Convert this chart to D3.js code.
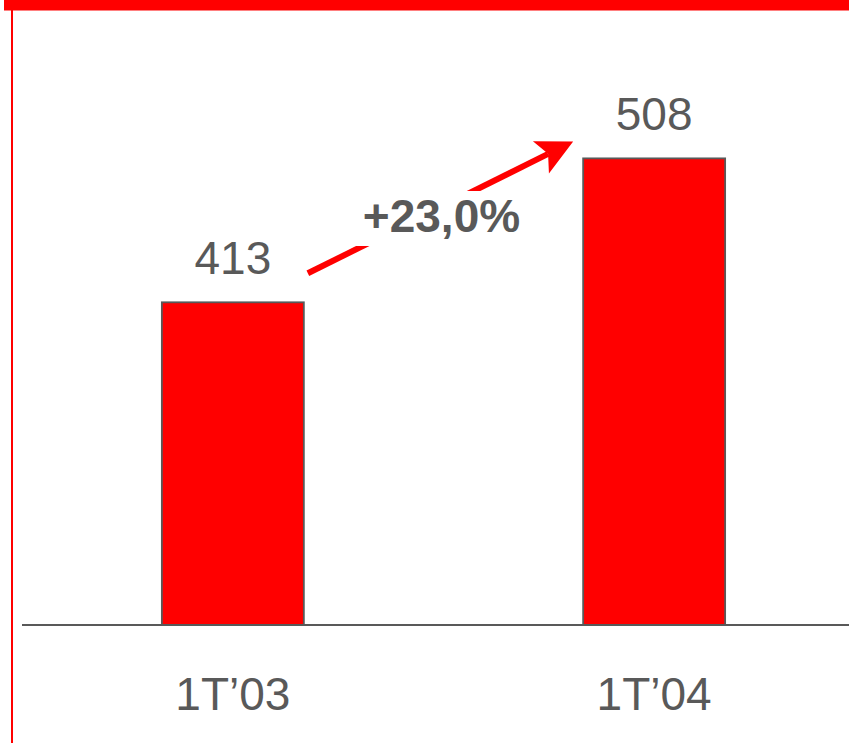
<!DOCTYPE html>
<html>
<head>
<meta charset="utf-8">
<script src="https://cdn.jsdelivr.net/npm/d3@7"></script>
<style>
  body { margin: 0; background: #fff; }
  text { font-family: "Liberation Sans", Arial, sans-serif; fill: #595959; }
</style>
</head>
<body>
<svg id="chart" width="849" height="743"></svg>
<script>
// data
let categories = ["1T\u201903", "1T\u201904"];
let values = [413, 508];
let growth = (values[1] / values[0] - 1) * 100;
let growthLabel = "+" + growth.toFixed(1).replace(".", ",") + "%";

let svg = d3.select("#chart"),
    width = +svg.attr("width"),
    height = +svg.attr("height");

let baseY = 625;

let x = d3.scaleBand()
          .domain(categories)
          .range([22, 865])
          .paddingInner(0.663)
          .paddingOuter(0.332);

let y = d3.scaleLinear()
          .domain([200, 600])
          .range([baseY, 19]);

// frame: top band and left rule
svg.append("rect")
   .attr("x", 4).attr("y", 0)
   .attr("width", width - 4).attr("height", 10.5)
   .attr("fill", "#ff0000");

svg.append("line")
   .attr("x1", 12).attr("x2", 12)
   .attr("y1", 0).attr("y2", height)
   .attr("stroke", "#ff0000")
   .attr("stroke-width", 2);

// bars
svg.selectAll(".bar")
   .data(values)
   .enter()
   .append("rect")
   .attr("class", "bar")
   .attr("x", (d, i) => x(categories[i]))
   .attr("y", d => y(d))
   .attr("width", x.bandwidth())
   .attr("height", d => baseY - y(d))
   .attr("fill", "#ff0000")
   .attr("stroke", "#595959")
   .attr("stroke-width", 1.8);

// baseline
svg.append("line")
   .attr("x1", 22).attr("x2", width)
   .attr("y1", baseY).attr("y2", baseY)
   .attr("stroke", "#595959")
   .attr("stroke-width", 2);

// value labels
svg.selectAll(".val")
   .data(values)
   .enter()
   .append("text")
   .attr("class", "val")
   .attr("x", (d, i) => x(categories[i]) + x.bandwidth() / 2)
   .attr("y", d => y(d) - 28)
   .attr("text-anchor", "middle")
   .style("font-size", "46px")
   .text(d => d);

// category labels
svg.selectAll(".cat")
   .data(categories)
   .enter()
   .append("text")
   .attr("class", "cat")
   .attr("x", d => x(d) + x.bandwidth() / 2)
   .attr("y", 710)
   .attr("text-anchor", "middle")
   .style("font-size", "46px")
   .text(d => d);

// growth arrow
let x0 = x(categories[0]) + x.bandwidth() + 4,
    y0 = y(values[0]) - 29,
    x1 = x(categories[1]) - 10,
    y1 = y(values[1]) - 17;
let ang = Math.atan2(y1 - y0, x1 - x0);
let headLen = 36, headHalf = 18, notch = 28;
let ux = Math.cos(ang), uy = Math.sin(ang);

svg.append("line")
   .attr("x1", x0).attr("y1", y0)
   .attr("x2", x1 - ux * notch).attr("y2", y1 - uy * notch)
   .attr("stroke", "#ff0000")
   .attr("stroke-width", 6);

let bx = x1 - ux * headLen, by = y1 - uy * headLen;
svg.append("polygon")
   .attr("points", [
       [x1, y1],
       [bx - uy * headHalf, by + ux * headHalf],
       [x1 - ux * notch, y1 - uy * notch],
       [bx + uy * headHalf, by - ux * headHalf]
   ].map(p => p.join(",")).join(" "))
   .attr("fill", "#ff0000");

// white box behind growth label
let midX = (x0 + x1) / 2 + 1;
svg.append("rect")
   .attr("x", midX - 88).attr("y", 191)
   .attr("width", 176).attr("height", 55)
   .attr("fill", "#fff");

svg.append("text")
   .attr("x", midX)
   .attr("y", 232)
   .attr("text-anchor", "middle")
   .style("font-size", "46px")
   .style("font-weight", "bold")
   .text(growthLabel);
</script>
</body>
</html>
